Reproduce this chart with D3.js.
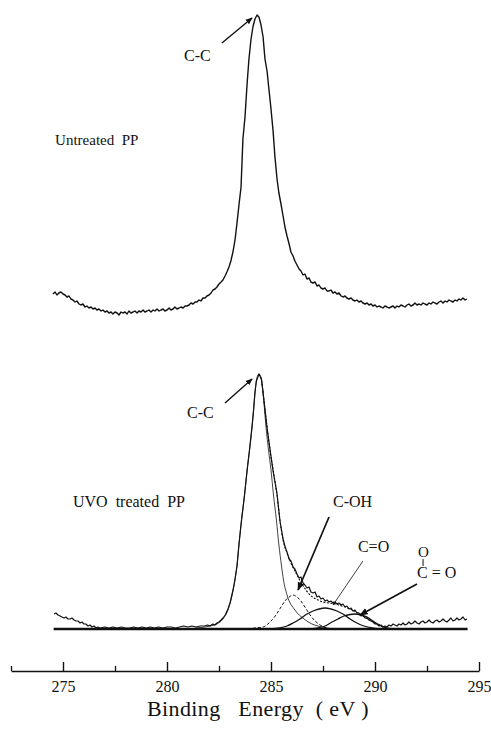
<!DOCTYPE html>
<html>
<head>
<meta charset="utf-8">
<script src="https://cdn.jsdelivr.net/npm/d3@7/dist/d3.min.js"></script>
<style>
  body { margin: 0; background: #fff; }
  svg { display: block; }
  text { font-family: "Liberation Serif", "Times New Roman", serif; fill: #111; }
</style>
</head>
<body>
<div id="chart"></div>
<script>
// x = binding energy (eV), y = intensity (a.u., untreated spectrum plotted with an offset)
var untreated = [
  [274.52,335],[274.62,337],[274.71,334],[274.80,336],[274.90,337],[275.00,335],[275.10,334],[275.19,332],
  [275.29,333],[275.38,330],[275.48,329],[275.58,327],[275.67,328],[275.77,325],[275.86,324],[275.96,325],
  [276.06,322],[276.15,323],[276.25,321],[276.35,322],[276.44,320],[276.54,321],[276.63,319],[276.73,320],
  [276.83,318],[276.92,319],[277.02,317],[277.12,318],[277.21,316],[277.31,317],[277.40,315],[277.50,317],
  [277.60,316],[277.69,314],[277.79,317],[277.88,316],[277.98,317],[278.08,315],[278.17,318],[278.27,316],
  [278.37,317],[278.46,318],[278.56,316],[278.65,318],[278.75,317],[278.85,319],[278.94,317],[279.04,318],
  [279.13,319],[279.23,317],[279.33,319],[279.42,318],[279.52,320],[279.62,318],[279.71,319],[279.81,320],
  [279.90,318],[280.00,319],[280.10,321],[280.19,319],[280.29,320],[280.38,322],[280.48,320],[280.58,321],
  [280.67,322],[280.77,321],[280.87,323],[280.96,323],[281.06,324],[281.15,326],[281.25,325],[281.35,327],
  [281.44,327],[281.54,329],[281.63,328],[281.73,331],[281.83,331],[281.92,333],[282.02,334],[282.12,336],
  [282.21,339],[282.31,340],[282.40,342],[282.50,345],[282.60,347],[282.69,349],[282.79,353],[282.88,357],
  [282.98,362],[283.07,368],[283.17,377],[283.27,389],[283.36,405],[283.46,424],[283.56,442],[283.65,490],
  [283.75,512],[283.85,545],[283.94,570],[284.04,590],[284.13,602],[284.23,610],[284.33,614],[284.42,612],
  [284.52,604],[284.62,592],[284.71,570],[284.81,558],[284.90,540],[285.00,520],[285.10,498],[285.19,472],
  [285.29,450],[285.38,436],[285.48,425],[285.58,413],[285.67,402],[285.77,393],[285.87,385],[285.96,377],
  [286.06,373],[286.15,368],[286.25,364],[286.35,360],[286.44,358],[286.54,354],[286.63,355],[286.73,350],
  [286.83,351],[286.92,347],[287.02,346],[287.12,347],[287.21,343],[287.31,344],[287.40,341],[287.50,340],
  [287.60,341],[287.69,338],[287.79,338],[287.88,339],[287.98,336],[288.08,337],[288.17,335],[288.27,336],
  [288.37,333],[288.46,332],[288.56,333],[288.65,331],[288.75,330],[288.85,331],[288.94,329],[289.04,328],
  [289.13,329],[289.23,327],[289.33,328],[289.42,326],[289.52,325],[289.62,326],[289.71,324],[289.81,325],
  [289.90,323],[290.00,324],[290.10,322],[290.19,323],[290.29,322],[290.38,321],[290.48,323],[290.58,322],
  [290.67,321],[290.77,322],[290.87,323],[290.96,321],[291.06,323],[291.15,322],[291.25,324],[291.35,323],
  [291.44,322],[291.54,324],[291.63,325],[291.73,323],[291.83,324],[291.92,326],[292.02,324],[292.12,325],
  [292.21,324],[292.31,326],[292.40,325],[292.50,324],[292.60,326],[292.69,325],[292.79,327],[292.88,326],
  [292.98,325],[293.08,327],[293.17,328],[293.27,326],[293.37,328],[293.46,327],[293.56,329],[293.65,328],
  [293.75,327],[293.85,329],[293.94,328],[294.04,330],[294.13,329],[294.23,331],[294.33,329],[294.42,330]
];

var uvoRaw = [
  [274.57,15],[274.66,16],[274.76,14],[274.86,13],[274.95,12],[275.05,11],[275.14,12],[275.24,10],
  [275.34,10],[275.43,11],[275.53,9],[275.62,8],[275.72,8],[275.82,6],[275.91,7],[276.01,5],[276.10,5],
  [276.20,3],[276.30,4],[276.39,2],[276.49,3],[276.59,1],[276.68,2],[276.80,1],[277.00,2],[277.20,1],
  [277.40,2],[277.60,1],[277.80,2],[278.00,1],[278.20,1],[278.40,2],[278.60,1],[278.80,2],[279.00,1],
  [279.20,2],[279.40,1],[279.60,2],[279.80,1],[280.00,2],[280.20,2],[280.40,1],[280.60,2],[280.80,3],
  [281.00,2],[281.20,3],[281.40,2],[281.60,3],[281.80,3],[281.95,4],[282.07,3],[282.20,5],[282.30,4],
  [282.40,6],[282.50,7],[282.60,9],[282.69,11],[282.80,14],[282.93,20],[283.03,26],[283.13,35],[283.20,42],
  [283.27,50],[283.37,64],[283.46,85],[283.58,108],[283.66,122],[283.73,135],[283.85,158],[283.97,180],
  [284.09,203],[284.16,218],[284.23,237],[284.30,248],[284.42,255],[284.54,250],[284.62,236],[284.71,220],
  [284.81,201],[284.95,180],[285.10,158],[285.29,135],[285.43,108],[285.58,90],[285.68,82],[285.77,77],
  [285.87,70],[285.96,68],[286.06,62],[286.15,60],[286.25,55],[286.35,51],[286.44,52],[286.54,46],
  [286.63,44],[286.73,41],[286.83,42],[286.92,37],[287.02,36],[287.12,37],[287.21,32],[287.31,33],
  [287.40,30],[287.50,31],[287.60,28],[287.69,29],[287.79,27],[287.88,28],[287.98,26],[288.08,27],
  [288.17,25],[288.27,26],[288.37,24],[288.46,25],[288.56,22],[288.65,23],[288.75,20],[288.85,21],
  [288.94,18],[289.04,19],[289.13,16],[289.23,16],[289.33,13],[289.42,14],[289.52,11],[289.62,11],
  [289.71,9],[289.81,8],[289.90,7],[290.00,5],[290.10,5],[290.19,3],[290.29,4],[290.38,2],[290.48,3],
  [290.58,2],[290.67,4],[290.77,3],[290.87,5],[290.96,4],[291.06,3],[291.15,5],[291.25,4],[291.35,6],
  [291.44,4],[291.54,5],[291.63,7],[291.73,5],[291.83,6],[291.92,8],[292.02,6],[292.12,5],[292.21,7],
  [292.31,8],[292.40,6],[292.50,7],[292.60,9],[292.69,7],[292.79,6],[292.88,8],[292.98,9],[293.08,7],
  [293.17,8],[293.27,10],[293.37,8],[293.46,7],[293.56,9],[293.65,11],[293.75,8],[293.85,9],[293.94,11],
  [294.04,9],[294.13,10],[294.23,12],[294.33,9],[294.42,10]
];

// fitted envelope (right side of the main peak onwards)
var uvoEnvelope = [
  [284.42,255],[284.54,249],[284.62,236],[284.71,219],[284.81,202],[284.95,179],[285.10,159],[285.29,134],
  [285.43,109],[285.58,89],[285.77,76],[285.96,66],[286.15,58],[286.30,52],[286.49,45],[286.68,39],
  [286.88,34],[287.07,31],[287.26,29],[287.50,27],[287.79,26],[288.08,25],[288.41,23],[288.70,21],
  [288.99,18],[289.28,15],[289.57,11],[289.86,8],[290.14,5],[290.43,2],[290.72,0]
];

// fitted component peaks
var peakCC = [
  [281.35,1],[281.83,2],[282.07,3],[282.40,5],[282.69,10],[282.93,19],[283.13,34],[283.27,49],[283.37,64],
  [283.46,84],[283.58,109],[283.73,134],[283.85,159],[283.97,179],[284.09,202],[284.16,219],[284.23,236],
  [284.30,249],[284.42,255],[284.54,249],[284.62,236],[284.69,219],[284.76,202],[284.88,179],[285.00,159],
  [285.12,134],[285.26,109],[285.38,84],[285.50,64],[285.60,49],[285.77,34],[286.15,19],[286.59,10],
  [286.97,5],[287.26,3],[287.69,1],[288.10,0]
];
var peakCOH = [
  [283.89,0],[284.23,1],[284.62,2],[284.95,7],[285.24,14],[285.48,22],[285.67,28],[285.87,32],[286.06,34],
  [286.25,32],[286.44,28],[286.63,22],[286.88,14],[287.12,8],[287.36,4],[287.69,1],[287.98,0]
];
var peakCO = [
  [284.95,0],[285.43,1],[285.77,3],[286.06,6],[286.39,10],[286.73,15],[287.02,18],[287.31,20],[287.60,21],
  [287.88,20],[288.17,18],[288.46,15],[288.80,10],[289.13,6],[289.47,3],[289.86,1],[290.24,0]
];
var peakOCO = [
  [286.88,0],[287.26,1],[287.60,3],[287.93,7],[288.22,10],[288.51,13],[288.80,14.5],[289.04,15],[289.33,14],
  [289.62,12],[289.90,8],[290.19,4],[290.53,1],[290.87,0]
];
var uvoBaseline = [[274.55,0],[294.45,0]];

var majorTicks = [275, 280, 285, 290, 295];
var minorTicks = [272.5, 277.5, 282.5, 287.5, 292.5];

// labels and arrows, positions in data units
var labels = [
  { text: "C-C", x: 280.82, y: 568, size: 16 },
  { text: "Untreated  PP", x: 274.62, y: 484, size: 15 },
  { text: "C-C", x: 280.96, y: 211, size: 16 },
  { text: "UVO  treated  PP", x: 275.48, y: 122, size: 16 },
  { text: "C-OH", x: 287.98, y: 122, size: 16 },
  { text: "C=O", x: 289.18, y: 77, size: 16 },
  { text: "O", x: 292.07, y: 72, size: 15 },
  { text: "C = O", x: 292.02, y: 51, size: 16 }
];
var arrows = [
  { x1: 282.64, y1: 586, x2: 284.09, y2: 611, w: 1.4, head: true },
  { x1: 282.79, y1: 226, x2: 284.09, y2: 250, w: 1.4, head: true },
  { x1: 287.79, y1: 112, x2: 286.30, y2: 39, w: 1.7, head: true },
  { x1: 289.42, y1: 68, x2: 287.98, y2: 24, w: 0.8, head: true },
  { x1: 292.02, y1: 45, x2: 289.28, y2: 14, w: 1.7, head: true },
  { x1: 292.31, y1: 70, x2: 292.31, y2: 63, w: 1, head: false }
];

var width = 491, height = 730;

var svg = d3.select("#chart").append("svg")
    .attr("width", width)
    .attr("height", height);

var x = d3.scaleLinear().domain([272.5, 295]).range([11, 479]);
var y = d3.scaleLinear().domain([0, 620]).range([629, 9]);

svg.append("defs").append("marker")
    .attr("id", "arrowhead")
    .attr("viewBox", "0 0 10 10")
    .attr("refX", 9).attr("refY", 5)
    .attr("markerWidth", 5).attr("markerHeight", 5)
    .attr("markerUnits", "strokeWidth")
    .attr("orient", "auto")
  .append("path")
    .attr("d", "M0,1 L10,5 L0,9 Z")
    .attr("fill", "#111");

var line = d3.line()
    .x(function(d) { return x(d[0]); })
    .y(function(d) { return y(d[1]); });
var smooth = d3.line()
    .x(function(d) { return x(d[0]); })
    .y(function(d) { return y(d[1]); })
    .curve(d3.curveMonotoneX);

function drawPath(data, gen, w, dash) {
  svg.append("path")
      .datum(data)
      .attr("d", gen)
      .attr("fill", "none")
      .attr("stroke", "#111")
      .attr("stroke-width", w)
      .attr("stroke-linejoin", "round")
      .attr("stroke-dasharray", dash || null);
}

// upper spectrum
drawPath(untreated, line, 1.4);

// lower spectrum: components, envelope, data, background
drawPath(peakCC, smooth, 0.8);
drawPath(peakCOH, smooth, 1, "3,2");
drawPath(peakCO, smooth, 1.3);
drawPath(peakOCO, smooth, 1.3);
drawPath(uvoEnvelope, smooth, 1.1, "2,1.5");
drawPath(uvoRaw, line, 1.2);
drawPath(uvoBaseline, line, 2.6);

// arrows
svg.selectAll(".arrow")
    .data(arrows)
    .enter().append("line")
    .attr("class", "arrow")
    .attr("x1", function(d) { return x(d.x1); })
    .attr("y1", function(d) { return y(d.y1); })
    .attr("x2", function(d) { return x(d.x2); })
    .attr("y2", function(d) { return y(d.y2); })
    .attr("stroke", "#111")
    .attr("stroke-width", function(d) { return d.w; })
    .attr("marker-end", function(d) { return d.head ? "url(#arrowhead)" : null; });

// labels
svg.selectAll(".label")
    .data(labels)
    .enter().append("text")
    .attr("class", "label")
    .attr("x", function(d) { return x(d.x); })
    .attr("y", function(d) { return y(d.y); })
    .style("font-size", function(d) { return d.size + "px"; })
    .style("white-space", "pre")
    .text(function(d) { return d.text; });

// x axis, ticks pointing up
var axisY = 671;
var gAxis = svg.append("g")
    .attr("transform", "translate(0," + axisY + ")")
    .call(d3.axisBottom(x)
      .tickValues(majorTicks)
      .tickFormat(d3.format("d"))
      .tickSizeInner(-9)
      .tickSizeOuter(0)
      .tickPadding(10));
gAxis.select(".domain").attr("stroke", "#111").attr("stroke-width", 1.6);
gAxis.selectAll(".tick line").attr("stroke", "#111").attr("stroke-width", 1.4);
gAxis.selectAll(".tick text")
    .style("font-family", "'Liberation Serif', 'Times New Roman', serif")
    .style("font-size", "16px")
    .attr("fill", "#111");

var gMinor = svg.append("g")
    .attr("transform", "translate(0," + axisY + ")")
    .call(d3.axisBottom(x)
      .tickValues(minorTicks)
      .tickFormat("")
      .tickSizeInner(-5)
      .tickSizeOuter(0));
gMinor.select(".domain").remove();
gMinor.selectAll(".tick line").attr("stroke", "#111").attr("stroke-width", 1.3);

svg.append("text")
    .attr("x", 258)
    .attr("y", 716)
    .attr("text-anchor", "middle")
    .style("font-size", "22px")
    .style("letter-spacing", "0.4px")
    .style("white-space", "pre")
    .text("Binding   Energy  ( eV )");
</script>
</body>
</html>
